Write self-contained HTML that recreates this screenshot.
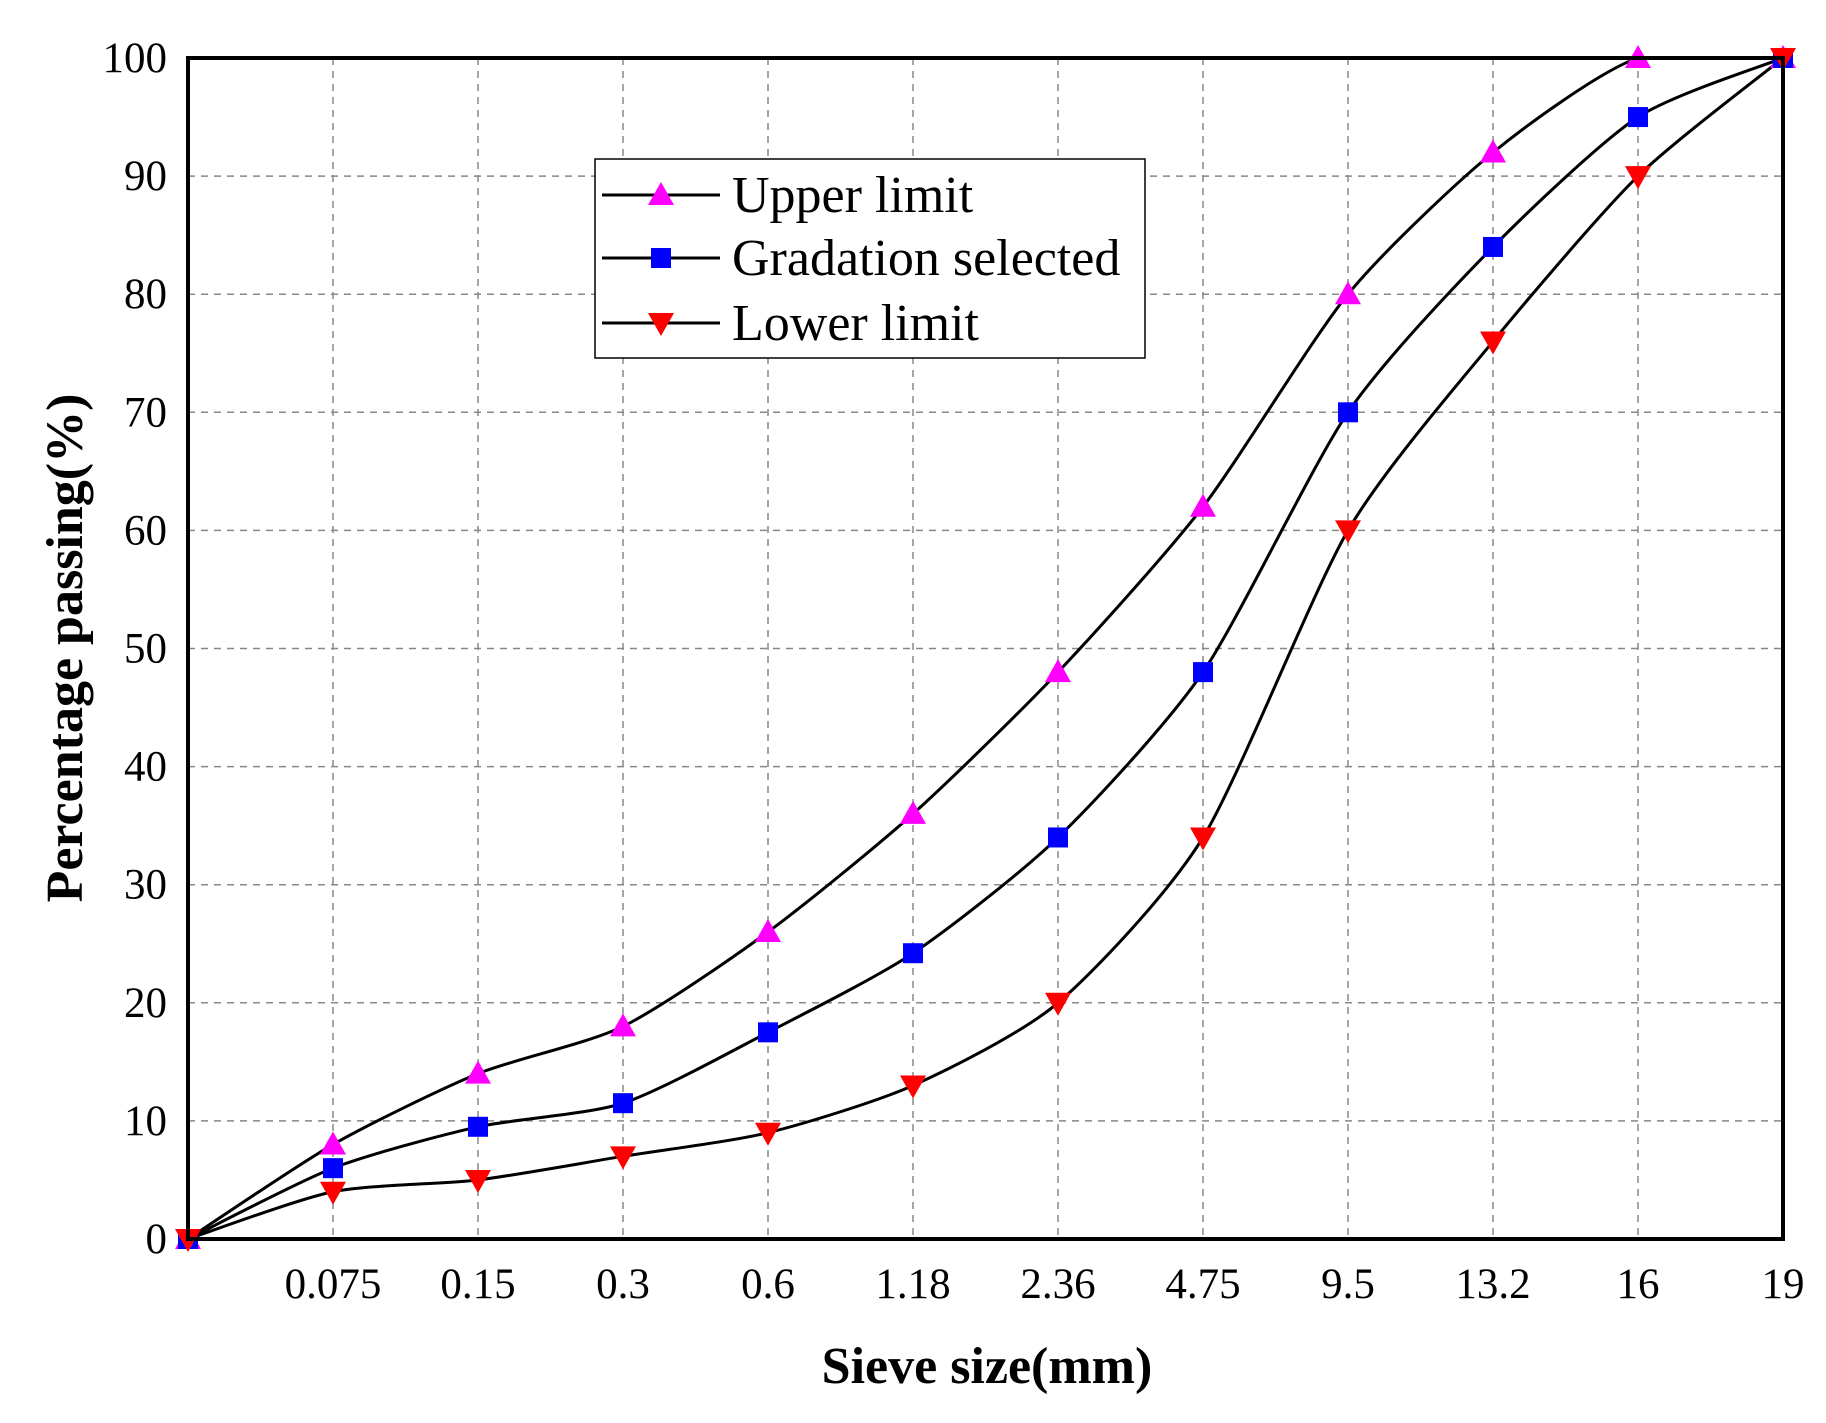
<!DOCTYPE html>
<html><head><meta charset="utf-8"><style>body{margin:0;background:#fff}svg{display:block}</style></head>
<body>
<svg id="s" width="1826" height="1423" xmlns="http://www.w3.org/2000/svg" font-family="Liberation Serif, serif"></svg>
<script>
const s=document.getElementById('s');
const L=188,T=58,R=1783,B=1239,st=(R-L)/11;
const X=i=>L+i*st, Y=v=>B-(B-T)*v/100;
let h='';
for(let i=1;i<11;i++)h+=`<line x1="${X(i)}" y1="${T}" x2="${X(i)}" y2="${B}" stroke="#888" stroke-width="1.5" stroke-dasharray="7,6"/>`;
for(let v=10;v<100;v+=10)h+=`<line x1="${L}" y1="${Y(v)}" x2="${R}" y2="${Y(v)}" stroke="#888" stroke-width="1.5" stroke-dasharray="7,6"/>`;
for(let v=0;v<=100;v+=10)h+=`<text x="167" y="${Y(v)+14}" font-size="43" text-anchor="end">${v}</text>`;
const xl=['0.075','0.15','0.3','0.6','1.18','2.36','4.75','9.5','13.2','16','19'];
xl.forEach((t,i)=>h+=`<text x="${X(i+1)}" y="1298" font-size="43" text-anchor="middle">${t}</text>`);
const U=[0,8,14,18,26,36,48,62,80,92,100,100],G=[0,6,9.5,11.5,17.5,24.2,34,48,70,84,95,100],Lo=[0,4,5,7,9,13,20,34,60,76,90,100];
function path(d){const p=d.map((v,i)=>[X(i),Y(v)]);let s=`M${p[0]}`;for(let i=0;i<p.length-1;i++){const a=p[Math.max(0,i-1)],b=p[i],c=p[i+1],e=p[Math.min(p.length-1,i+2)];const k=0.12;
let y1=b[1]+(c[1]-a[1])*k,y2=c[1]-(e[1]-b[1])*k;const lo=Math.min(b[1],c[1]),hi=Math.max(b[1],c[1]);y1=Math.min(hi,Math.max(lo,y1));y2=Math.min(hi,Math.max(lo,y2));
s+=` C${b[0]+(c[0]-a[0])*k},${y1} ${c[0]-(e[0]-b[0])*k},${y2} ${c[0]},${c[1]}`;}return s;}
const tri=(x,y,c,up)=>up?`<polygon points="${x},${y-13} ${x-13},${y+10} ${x+13},${y+10}" fill="${c}"/>`:`<polygon points="${x},${y+13} ${x-13},${y-10} ${x+13},${y-10}" fill="${c}"/>`;
const sq=(x,y)=>`<rect x="${x-10}" y="${y-10}" width="20" height="20" fill="#0000ff"/>`;
[U,G,Lo].forEach(d=>h+=`<path d="${path(d)}" fill="none" stroke="#000" stroke-width="3"/>`);
U.forEach((v,i)=>h+=tri(X(i),Y(v),'#ff00ff',1));
G.forEach((v,i)=>h+=sq(X(i),Y(v)));
Lo.forEach((v,i)=>h+=tri(X(i),Y(v),'#ff0000',0));
h+=`<rect x="${L}" y="${T}" width="${R-L}" height="${B-T}" fill="none" stroke="#000" stroke-width="4"/>`;
h+=`<rect x="595" y="159" width="550" height="199" fill="#fff" stroke="#000" stroke-width="1.5"/>`;
[['Upper limit',195,'u'],['Gradation selected',258,'g'],['Lower limit',323,'l']].forEach(([t,y,k])=>{
h+=`<line x1="602" y1="${y}" x2="720" y2="${y}" stroke="#000" stroke-width="3"/>`;
h+=k=='u'?tri(661,y,'#ff00ff',1):k=='g'?sq(661,y):tri(661,y,'#ff0000',0);
h+=`<text x="732" y="${y+17}" font-size="52">${t}</text>`;});
h+=`<text x="987" y="1383" font-size="52" font-weight="bold" text-anchor="middle">Sieve size(mm)</text>`;
h+=`<text transform="translate(82,648) rotate(-90)" font-size="52" font-weight="bold" text-anchor="middle">Percentage passing(%)</text>`;
s.innerHTML=h;
</script>
</body></html>
